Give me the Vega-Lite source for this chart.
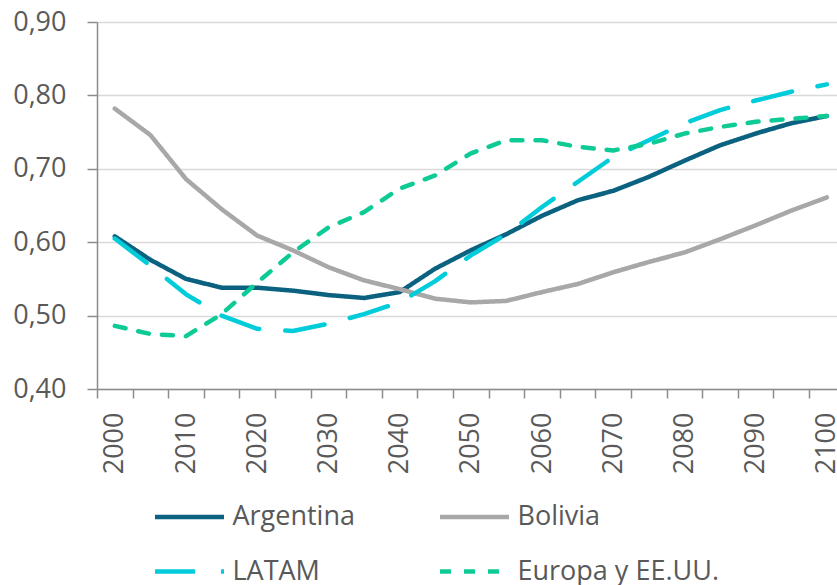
{
  "$schema": "https://vega.github.io/schema/vega-lite/v6.json",
  "width": 740,
  "height": 367,
  "autosize": {"type": "none"},
  "padding": {"left": 97, "top": 22, "right": 0, "bottom": 196},
  "background": "white",
  "config": {
    "view": {"stroke": null},
    "font": "Open Sans",
    "axis": {"labelFont": "Open Sans", "labelFontSize": 27, "labelColor": "#595959", "domainColor": "#8c8c8c", "tickColor": "#8c8c8c", "domainWidth": 1.5, "tickWidth": 1.5},
    "legend": {"labelFont": "Open Sans"}
  },
  "data": {
    "values": [
      {"year": 2000, "serie": "Argentina", "value": 0.608},
      {"year": 2005, "serie": "Argentina", "value": 0.576},
      {"year": 2010, "serie": "Argentina", "value": 0.550},
      {"year": 2015, "serie": "Argentina", "value": 0.538},
      {"year": 2020, "serie": "Argentina", "value": 0.538},
      {"year": 2025, "serie": "Argentina", "value": 0.534},
      {"year": 2030, "serie": "Argentina", "value": 0.528},
      {"year": 2035, "serie": "Argentina", "value": 0.524},
      {"year": 2040, "serie": "Argentina", "value": 0.532},
      {"year": 2045, "serie": "Argentina", "value": 0.564},
      {"year": 2050, "serie": "Argentina", "value": 0.589},
      {"year": 2055, "serie": "Argentina", "value": 0.611},
      {"year": 2060, "serie": "Argentina", "value": 0.636},
      {"year": 2065, "serie": "Argentina", "value": 0.657},
      {"year": 2070, "serie": "Argentina", "value": 0.670},
      {"year": 2075, "serie": "Argentina", "value": 0.689},
      {"year": 2080, "serie": "Argentina", "value": 0.711},
      {"year": 2085, "serie": "Argentina", "value": 0.732},
      {"year": 2090, "serie": "Argentina", "value": 0.748},
      {"year": 2095, "serie": "Argentina", "value": 0.762},
      {"year": 2100, "serie": "Argentina", "value": 0.772},
      {"year": 2000, "serie": "Bolivia", "value": 0.782},
      {"year": 2005, "serie": "Bolivia", "value": 0.746},
      {"year": 2010, "serie": "Bolivia", "value": 0.686},
      {"year": 2015, "serie": "Bolivia", "value": 0.645},
      {"year": 2020, "serie": "Bolivia", "value": 0.609},
      {"year": 2025, "serie": "Bolivia", "value": 0.589},
      {"year": 2030, "serie": "Bolivia", "value": 0.566},
      {"year": 2035, "serie": "Bolivia", "value": 0.548},
      {"year": 2040, "serie": "Bolivia", "value": 0.536},
      {"year": 2045, "serie": "Bolivia", "value": 0.523},
      {"year": 2050, "serie": "Bolivia", "value": 0.518},
      {"year": 2055, "serie": "Bolivia", "value": 0.520},
      {"year": 2060, "serie": "Bolivia", "value": 0.532},
      {"year": 2065, "serie": "Bolivia", "value": 0.543},
      {"year": 2070, "serie": "Bolivia", "value": 0.559},
      {"year": 2075, "serie": "Bolivia", "value": 0.573},
      {"year": 2080, "serie": "Bolivia", "value": 0.586},
      {"year": 2085, "serie": "Bolivia", "value": 0.604},
      {"year": 2090, "serie": "Bolivia", "value": 0.623},
      {"year": 2095, "serie": "Bolivia", "value": 0.643},
      {"year": 2100, "serie": "Bolivia", "value": 0.661},
      {"year": 2000, "serie": "LATAM", "value": 0.605},
      {"year": 2005, "serie": "LATAM", "value": 0.568},
      {"year": 2010, "serie": "LATAM", "value": 0.529},
      {"year": 2015, "serie": "LATAM", "value": 0.500},
      {"year": 2020, "serie": "LATAM", "value": 0.482},
      {"year": 2025, "serie": "LATAM", "value": 0.479},
      {"year": 2030, "serie": "LATAM", "value": 0.489},
      {"year": 2035, "serie": "LATAM", "value": 0.502},
      {"year": 2040, "serie": "LATAM", "value": 0.518},
      {"year": 2045, "serie": "LATAM", "value": 0.547},
      {"year": 2050, "serie": "LATAM", "value": 0.582},
      {"year": 2055, "serie": "LATAM", "value": 0.611},
      {"year": 2060, "serie": "LATAM", "value": 0.648},
      {"year": 2065, "serie": "LATAM", "value": 0.682},
      {"year": 2070, "serie": "LATAM", "value": 0.716},
      {"year": 2075, "serie": "LATAM", "value": 0.739},
      {"year": 2080, "serie": "LATAM", "value": 0.762},
      {"year": 2085, "serie": "LATAM", "value": 0.780},
      {"year": 2090, "serie": "LATAM", "value": 0.793},
      {"year": 2095, "serie": "LATAM", "value": 0.805},
      {"year": 2100, "serie": "LATAM", "value": 0.815},
      {"year": 2000, "serie": "Europa y EE.UU.", "value": 0.486},
      {"year": 2005, "serie": "Europa y EE.UU.", "value": 0.475},
      {"year": 2010, "serie": "Europa y EE.UU.", "value": 0.472},
      {"year": 2015, "serie": "Europa y EE.UU.", "value": 0.502},
      {"year": 2020, "serie": "Europa y EE.UU.", "value": 0.545},
      {"year": 2025, "serie": "Europa y EE.UU.", "value": 0.586},
      {"year": 2030, "serie": "Europa y EE.UU.", "value": 0.620},
      {"year": 2035, "serie": "Europa y EE.UU.", "value": 0.641},
      {"year": 2040, "serie": "Europa y EE.UU.", "value": 0.673},
      {"year": 2045, "serie": "Europa y EE.UU.", "value": 0.691},
      {"year": 2050, "serie": "Europa y EE.UU.", "value": 0.721},
      {"year": 2055, "serie": "Europa y EE.UU.", "value": 0.739},
      {"year": 2060, "serie": "Europa y EE.UU.", "value": 0.739},
      {"year": 2065, "serie": "Europa y EE.UU.", "value": 0.730},
      {"year": 2070, "serie": "Europa y EE.UU.", "value": 0.725},
      {"year": 2075, "serie": "Europa y EE.UU.", "value": 0.734},
      {"year": 2080, "serie": "Europa y EE.UU.", "value": 0.748},
      {"year": 2085, "serie": "Europa y EE.UU.", "value": 0.757},
      {"year": 2090, "serie": "Europa y EE.UU.", "value": 0.764},
      {"year": 2095, "serie": "Europa y EE.UU.", "value": 0.768},
      {"year": 2100, "serie": "Europa y EE.UU.", "value": 0.772}
    ]
  },
  "layer": [
    {
      "mark": {"type": "point", "opacity": 0},
      "encoding": {
        "x": {
          "field": "year", "type": "quantitative",
          "scale": {"domain": [1997.5, 2101.43], "nice": false, "zero": false},
          "axis": {"orient": "bottom", "values": [2000, 2010, 2020, 2030, 2040, 2050, 2060, 2070, 2080, 2090, 2100], "format": "d", "ticks": false, "tickSize": 0, "domain": false, "grid": false, "labelAngle": 270, "labelAlign": "right", "labelBaseline": "middle", "labelPadding": 23, "labelFontSize": 27, "title": null, "labelOverlap": false, "labelBound": false, "labelFlush": false}
        },
        "y": {
          "field": "value", "type": "quantitative",
          "scale": {"domain": [0.4, 0.9], "nice": false, "zero": false},
          "axis": {"orient": "left", "values": [0.4, 0.5, 0.6, 0.7, 0.8, 0.9], "labelExpr": "replace(format(datum.value, '.2f'), '.', ',')", "tickSize": 10, "labelPadding": 21, "grid": true, "gridColor": "#d9d9d9", "gridWidth": 1.5, "title": null}
        }
      }
    },
    {
      "mark": {"type": "line", "strokeCap": "round", "strokeJoin": "round"},
      "encoding": {
        "x": {
          "field": "year", "type": "quantitative",
          "scale": {"domain": [1997.5, 2101.43], "nice": false, "zero": false},
          "axis": {"orient": "bottom", "values": [1997.5, 2002.5, 2007.5, 2012.5, 2017.5, 2022.5, 2027.5, 2032.5, 2037.5, 2042.5, 2047.5, 2052.5, 2057.5, 2062.5, 2067.5, 2072.5, 2077.5, 2082.5, 2087.5, 2092.5, 2097.5], "labels": false, "tickSize": 9, "grid": false, "title": null}
        },
        "y": {
          "field": "value", "type": "quantitative",
          "scale": {"domain": [0.4, 0.9], "nice": false, "zero": false},
          "axis": {"orient": "left", "values": [0.4, 0.5, 0.6, 0.7, 0.8, 0.9], "labelExpr": "replace(format(datum.value, '.2f'), '.', ',')", "tickSize": 10, "labelPadding": 21, "grid": true, "gridColor": "#d9d9d9", "gridWidth": 1.5, "title": null}
        },
        "color": {
          "field": "serie", "type": "nominal",
          "scale": {"domain": ["Argentina", "Bolivia", "LATAM", "Europa y EE.UU."], "range": ["#0b6280", "#a8a8a8", "#00ccda", "#0ecb96"]},
          "legend": {"title": null, "orient": "none", "direction": "horizontal", "legendX": 55.5, "legendY": 481, "columns": 2, "symbolType": "stroke", "symbolSize": 4761, "symbolStrokeWidth": 5, "clipHeight": 28, "labelFontSize": 27, "labelColor": "#595959", "labelOffset": 6, "rowPadding": 26.6, "columnPadding": 82, "padding": 0, "symbolOffset": 0, "labelLimit": 400}
        },
        "strokeDash": {
          "field": "serie", "type": "nominal",
          "scale": {"domain": ["Argentina", "Bolivia", "LATAM", "Europa y EE.UU."], "range": [[1, 0], [1, 0], [40, 26], [11, 13]]},
          "legend": {"title": null, "orient": "none", "direction": "horizontal", "legendX": 55.5, "legendY": 481, "columns": 2, "symbolType": "stroke", "symbolSize": 4761, "symbolStrokeWidth": 5, "clipHeight": 28, "labelFontSize": 27, "labelColor": "#595959", "labelOffset": 6, "rowPadding": 26.6, "columnPadding": 82, "padding": 0, "symbolOffset": 0, "labelLimit": 400}
        },
        "strokeWidth": {
          "field": "serie", "type": "nominal",
          "scale": {"domain": ["Argentina", "Bolivia", "LATAM", "Europa y EE.UU."], "range": [4.5, 4.5, 5.5, 5]},
          "legend": null
        }
      }
    }
  ],
  "resolve": {"axis": {"x": "independent"}}
}
